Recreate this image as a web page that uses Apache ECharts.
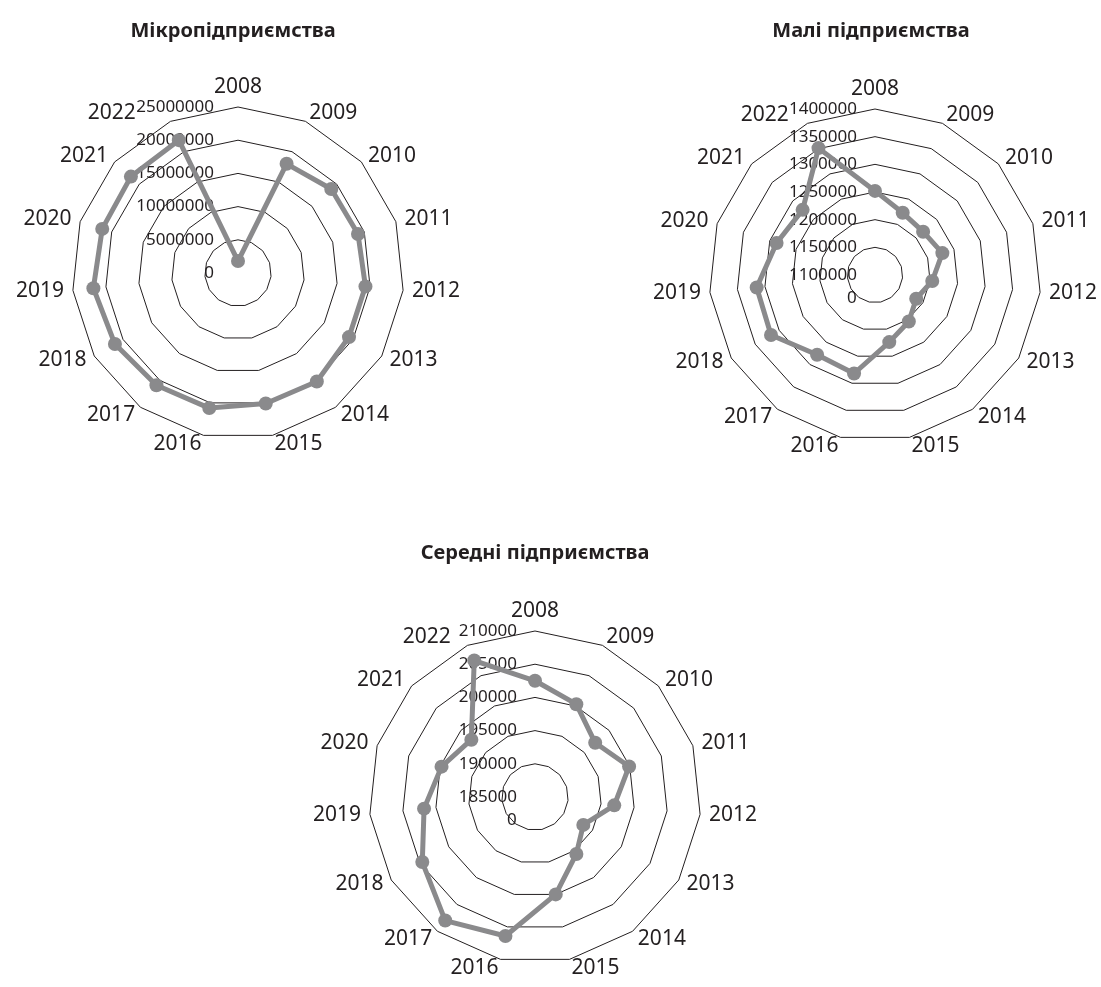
<!DOCTYPE html>
<html>
<head>
<meta charset="utf-8">
<script src="https://cdn.jsdelivr.net/npm/echarts@6/dist/echarts.min.js"></script>
<style>
  html, body { margin: 0; padding: 0; background: #fff; }
  #main { width: 1101px; height: 987px; }
</style>
</head>
<body>
<div id="main"></div>
<script>
// роки по осях
const years = ['2008', '2009', '2010', '2011', '2012', '2013', '2014', '2015',
  '2016', '2017', '2018', '2019', '2020', '2021', '2022']

// кількість зайнятих (оцінка з графіка)
const micro = [1800000, 18000000, 18900000, 19000000, 19300000, 19300000, 20200000, 20100000,
  20800000, 20900000, 21400000, 21900000, 21500000, 21700000, 21900000]
const small = [1252000, 1223000, 1217000, 1228000, 1204000, 1186000, 1204000, 1224000,
  1282000, 1278000, 1317000, 1315000, 1287000, 1276000, 1351000]
const medium = [202500, 200300, 197200, 199900, 197000, 193400, 195600, 200000,
  206400, 208000, 204600, 201800, 199800, 197900, 207500]

const titles = ['Мікропідприємства', 'Малі підприємства', 'Середні підприємства']
// межі радіальних шкал
const axisMin = [0, 1100000, 185000]
const axisMax = [25000000, 1400000, 210000]
const axisSplits = [5, 6, 5]

const centers = [[238, 273], [875, 275], [535, 797]]
const radius = 166
const labelMargin = [24, 18, 18]
// підпис "2022" відсунутий ліворуч, щоб не налазити на шкалу
const lastNameShift = [31, 15, 13]
const titlePos = [[228, 16], [866, 16], [530, 538]]

const font = 'Noto Sans'
const lineGray = '#8a8a8c'

// ECharts малює осі проти годинникової стрілки, тож переставляємо порядок,
// щоб роки йшли за годинниковою стрілкою
const order = years.map(function (y, k) { return k === 0 ? 0 : years.length - k })

var myChart = echarts.init(document.getElementById('main'))

const radars = centers.map(function (c, i) {
  return {
    center: c,
    radius: radius,
    startAngle: 90,
    shape: 'polygon',
    splitNumber: axisSplits[i],
    axisName: {
      color: '#231f20', fontSize: 21, fontFamily: font,
      formatter: function (name) {
        return name === years[years.length - 1] ? '{s|' + name + '}' : name
      },
      rich: {
        s: { color: '#231f20', fontSize: 21, fontFamily: font, padding: [0, lastNameShift[i], 0, 0] }
      }
    },
    nameGap: 9,
    axisLine: { show: false },
    axisTick: { show: false },
    splitArea: { show: false },
    splitLine: { lineStyle: { color: '#231f20', width: 1 } },
    axisLabel: { show: false },
    indicator: order.map(function (k, pos) {
      const ind = { name: years[k], min: axisMin[i], max: axisMax[i] }
      // підписи шкали лише на першій осі
      if (pos === 0) {
        ind.axisLabel = {
          show: true, color: '#231f20', fontSize: 17, fontFamily: font,
          margin: labelMargin[i], align: 'right',
          formatter: function (v) { return String(v) }
        }
      }
      return ind
    })
  }
})

const seriesData = [micro, small, medium]

myChart.setOption({
  animation: false,
  title: titles.map(function (t, i) {
    return {
      text: t,
      left: titlePos[i][0],
      top: titlePos[i][1],
      textAlign: 'center',
      textStyle: { fontSize: 20, fontWeight: 'bold', color: '#231f20', fontFamily: font }
    }
  }),
  radar: radars,
  series: seriesData.map(function (d, i) {
    return {
      type: 'radar',
      radarIndex: i,
      symbol: 'circle',
      symbolSize: 14,
      lineStyle: { color: lineGray, width: 5 },
      itemStyle: { color: lineGray },
      data: [{ value: order.map(function (k) { return d[k] }) }]
    }
  }),
  // зайвий підпис «0» під центром, як в оригіналі
  graphic: [1, 2].map(function (i) {
    return {
      type: 'text',
      left: centers[i][0] - labelMargin[i] - 10,
      top: centers[i][1] + 15,
      style: { text: '0', fontSize: 17, fontFamily: font, fill: '#231f20' }
    }
  })
})
</script>
</body>
</html>
